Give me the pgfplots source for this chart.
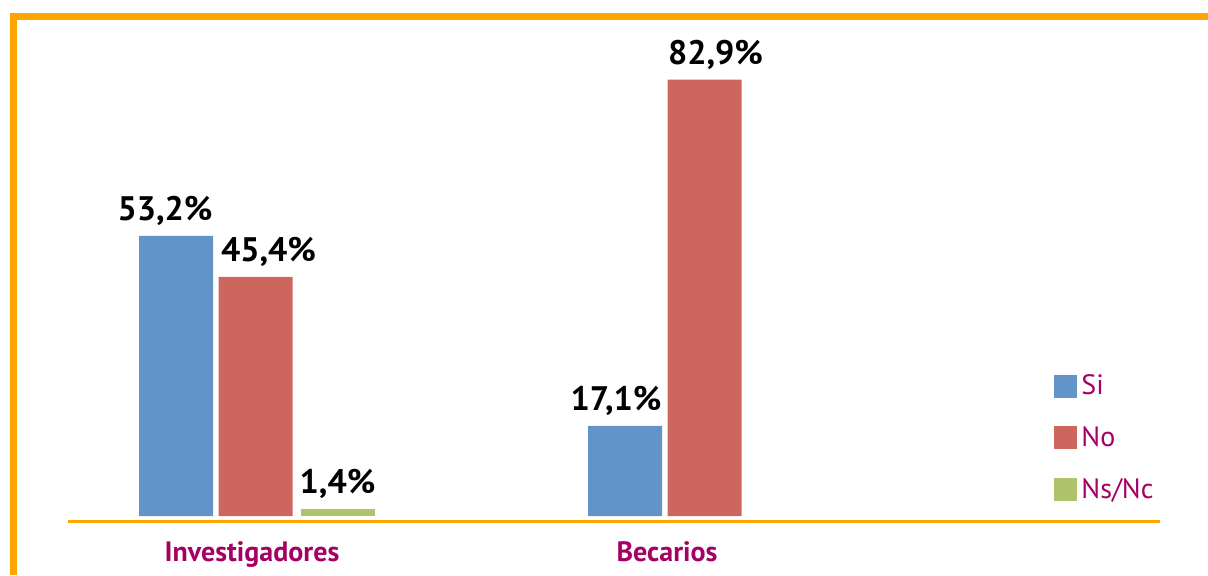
\documentclass[border=0pt]{standalone}
\usepackage{fontspec}
\setmainfont{PT Sans}
\usepackage{pgfplots}
\pgfplotsset{compat=1.18}
\definecolor{cblue}{RGB}{99,148,201}
\definecolor{cred}{RGB}{205,102,95}
\definecolor{cgreen}{RGB}{173,196,108}
\definecolor{corange}{RGB}{255,165,0}
\definecolor{cmag}{RGB}{165,0,100}
\begin{document}
\begin{tikzpicture}
\useasboundingbox (0,0) rectangle (604pt,287.5pt);
\draw[corange, line width=3.5pt] (6.75pt,0) -- (6.75pt,279.25pt) -- (604pt,279.25pt);
\begin{axis}[
  at={(34pt,26.87pt)}, anchor=south west,
  scale only axis, width=546pt, height=252.72pt,
  xmin=68, xmax=1160, ymin=-1, ymax=95,
  axis x line*=bottom, axis y line=none,
  x axis line style={corange, line width=1.5pt, -},
  xtick={252,667}, xticklabels={Investigadores,Becarios},
  major tick length=0pt,
  xticklabel style={font=\bfseries\fontsize{14}{14}\selectfont, text=cmag, yshift=-6.5pt},
  ytick=\empty,
  ybar,
  /pgf/number format/assume math mode=true,
  visualization depends on={\thisrow{dx} \as \dx},
  nodes near coords={\pgfmathprintnumber[fixed,precision=1,fixed zerofill,use comma,assume math mode=true]{\pgfplotspointmeta}\%},
  nodes near coords style={font=\bfseries\fontsize{17}{17}\selectfont, text=black, xshift=\dx pt, yshift=1.5pt},
  legend style={draw=none, fill=none, at={(axis cs:1054,27.7)}, anchor=north west,
    font=\fontsize{14}{14}\selectfont, text=cmag, row sep=10.5pt, inner sep=0pt},
  legend cell align=left,
  legend image code/.code={\fill[#1,draw=none] (0pt,-5.75pt) rectangle (11.5pt,5.75pt);},
  /tikz/every even column/.append style={column sep=3pt},
]
\addplot[fill=cblue, draw=none, bar width=37pt, bar shift=0pt] table {
x y dx
176 53.2 -5.5
625 17.1 -4.5
};
\addplot[fill=cred, draw=none, bar width=37pt, bar shift=0pt] table {
x y dx
255.5 45.4 6.5
704.5 82.9 5.5
};
\addplot[fill=cgreen, draw=none, bar width=37pt, bar shift=0pt] table {
x y dx
337.5 1.4 0
};
\legend{Si,No,Ns/Nc}
\end{axis}
\end{tikzpicture}
\end{document}
